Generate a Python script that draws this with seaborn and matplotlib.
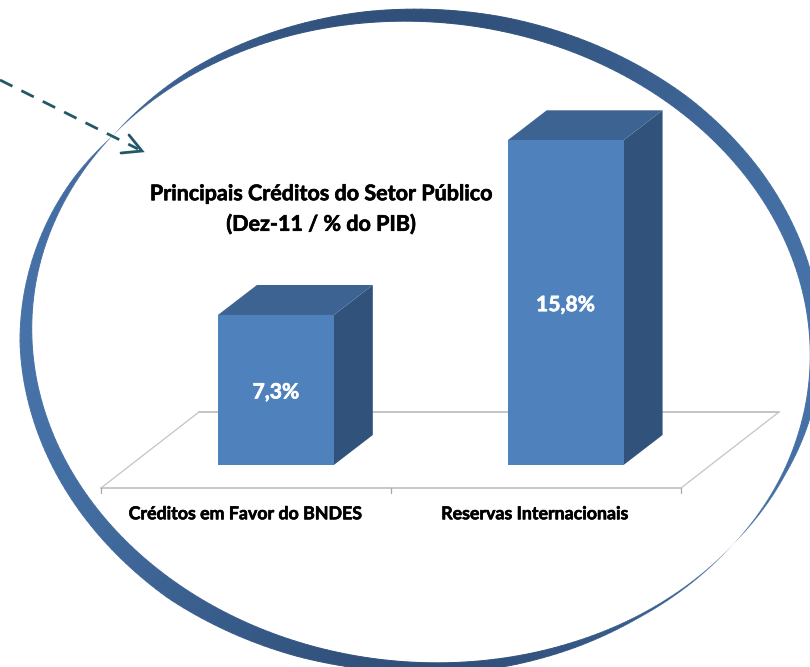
import numpy as np
import matplotlib
matplotlib.use("Agg")
import matplotlib.pyplot as plt
import matplotlib.patheffects as pe
from matplotlib.collections import PolyCollection
from matplotlib.patches import Polygon
from matplotlib.transforms import ScaledTranslation
import seaborn as sns

categories = ["Créditos em Favor do BNDES", "Reservas Internacionais"]
values = [7.3, 15.8]
value_labels = ["7,3%", "15,8%"]
title_lines = "Principais Créditos do Setor Público\n(Dez-11 / % do PIB)"

W, H = 810, 667
DPI = 100
FONT = "Lato"
FACE, SIDE, TOP = "#4f81bd", "#31527b", "#3c6391"
GRID, TICK = "#c4c4c4", "#a8a8a8"
ARROW = "#215968"

sns.set_theme(style="white")
plt.rcParams["font.family"] = [FONT, "DejaVu Sans"]

fig = plt.figure(figsize=(W / DPI, H / DPI), dpi=DPI, facecolor="white")


def embolden(txt, color):
    txt.set_path_effects([pe.withStroke(linewidth=0.45, foreground=color)])


# overlay in pixel coordinates for the decorations
ov = fig.add_axes([0, 0, 1, 1], zorder=0)
ov.set_xlim(0, W)
ov.set_ylim(H, 0)
ov.axis("off")

# plot axes: front plane of the bars
LEFT, RIGHT, BASE, PX_PER_UNIT = 131.0, 710.5, 465.0, 20.55
YMAX = 18
top_px = BASE - YMAX * PX_PER_UNIT
ax = fig.add_axes([LEFT / W, 1 - BASE / H, (RIGHT - LEFT) / W, (BASE - top_px) / H], zorder=1)
sns.barplot(x=categories, y=values, color=FACE, saturation=1, width=0.4, ax=ax, linewidth=0)
ax.set_xlim(-0.5, 1.5)
ax.set_ylim(0, YMAX)
ax.patch.set_visible(False)
for s in ax.spines.values():
    s.set_visible(False)
ax.set_yticks([])
ax.set_xlabel("")
ax.set_ylabel("")
ax.tick_params(axis="x", length=0, pad=29)
shift = ScaledTranslation(-30.5 / DPI, 0, fig.dpi_scale_trans)
for lab in ax.get_xticklabels():
    lab.set_transform(lab.get_transform() + shift)
    lab.set_fontsize(12.8)
    lab.set_fontweight("bold")
    lab.set_color("black")
    embolden(lab, "black")
for txt in ax.bar_label(ax.containers[0], labels=value_labels, label_type="center",
                        color="white", fontsize=15.2, fontweight="bold"):
    txt.xyann = (0, -1.8)
    embolden(txt, "white")

# floor and axis line
DX, DY = 98, 76
FRONT_Y = 488
F0, F1 = 101, 681
ov.plot([F0 + DX, F1 + DX], [FRONT_Y - DY, FRONT_Y - DY], color=GRID, lw=1.4, zorder=1)
ov.plot([F0, F0 + DX], [FRONT_Y, FRONT_Y - DY], color=GRID, lw=0.9, zorder=1)
ov.plot([F1, F1 + DX], [FRONT_Y, FRONT_Y - DY], color=GRID, lw=0.9, zorder=1)
ov.plot([F0, F1], [FRONT_Y, FRONT_Y], color=GRID, lw=1.3, zorder=1)
for x in (F0, (F0 + F1) / 2, F1):
    ov.plot([x, x], [FRONT_Y, FRONT_Y + 5], color=TICK, lw=0.9, zorder=1)

# 3D sides derived from the bars
BAR_DX, BAR_DY = 39, 30
fig.canvas.draw()
for bar in ax.patches:
    x0, y0 = bar.get_x(), 0
    x1, y1 = x0 + bar.get_width(), bar.get_height()
    (px0, py0), (px1, py1) = ax.transData.transform([(x0, y0), (x1, y1)])
    py0, py1 = H - py0, H - py1
    ov.add_patch(Polygon([(px1, py0), (px1, py1), (px1 + BAR_DX, py1 - BAR_DY), (px1 + BAR_DX, py0 - BAR_DY)],
                         closed=True, fc=SIDE, ec="none", zorder=2))
    ov.add_patch(Polygon([(px0, py1), (px1, py1), (px1 + BAR_DX, py1 - BAR_DY), (px0 + BAR_DX, py1 - BAR_DY)],
                         closed=True, fc=TOP, ec="none", zorder=2))

# dashed arrow
ov.plot([0, 138], [80, 149], color=ARROW, lw=2.0, dashes=(5.0, 3.6), zorder=3, solid_capstyle="butt")
ov.plot([129, 142, 121], [135, 151, 153], color=ARROW, lw=2.0, zorder=3, solid_joinstyle="miter")

# crescent ring: inner ellipse plus a varying band width, pinched at two places
CX, CY, A, B = 421, 342, 390, 320
ROT = np.deg2rad(-6)
BAND_ANGLES = [0, 26, 42, 60, 76, 100, 130, 146, 155, 180, 205, 225, 248, 270, 285, 297, 308, 327, 340, 360]
BAND_WIDTHS = [12, 15, 16, 15, 14, 11, 5, 0, 4, 12, 15, 17, 14, 9.5, 8.5, 5.5, 2.5, 0, 3, 12]
t = np.linspace(0, 2 * np.pi, 361)
ux, uy = A * np.cos(t), B * np.sin(t)
ix = CX + ux * np.cos(ROT) - uy * np.sin(ROT)
iy = CY - (ux * np.sin(ROT) + uy * np.cos(ROT))
nx = np.cos(t) / A * np.cos(ROT) - np.sin(t) / B * np.sin(ROT)
ny = -(np.cos(t) / A * np.sin(ROT) + np.sin(t) / B * np.cos(ROT))
nn = np.hypot(nx, ny)
nx, ny = nx / nn, ny / nn
theta = np.degrees(np.arctan2(CY - iy, ix - CX)) % 360
thick = np.interp(theta, BAND_ANGLES, BAND_WIDTHS)
ox, oy = ix + nx * thick, iy + ny * thick
light = np.array(matplotlib.colors.to_rgb("#4672a8"))
dark = np.array(matplotlib.colors.to_rgb("#30507a"))
quads, cols, widths = [], [], []
for i in range(len(t) - 1):
    quads.append([(ox[i], oy[i]), (ox[i + 1], oy[i + 1]), (ix[i + 1], iy[i + 1]), (ix[i], iy[i])])
    m = np.sin(np.deg2rad(theta[i])) ** 2
    cols.append(light + (dark - light) * m)
    widths.append(min(0.7, thick[i] * 0.12))
ov.add_collection(PolyCollection(quads, facecolors=cols, edgecolors=cols, linewidths=widths, zorder=4))

# title
title = ov.text(321, 209, title_lines, ha="center", va="center", fontsize=15.5, fontweight="bold",
                color="black", linespacing=1.5, zorder=5)
embolden(title, "black")

fig.savefig("out.png", dpi=DPI, facecolor="white")
